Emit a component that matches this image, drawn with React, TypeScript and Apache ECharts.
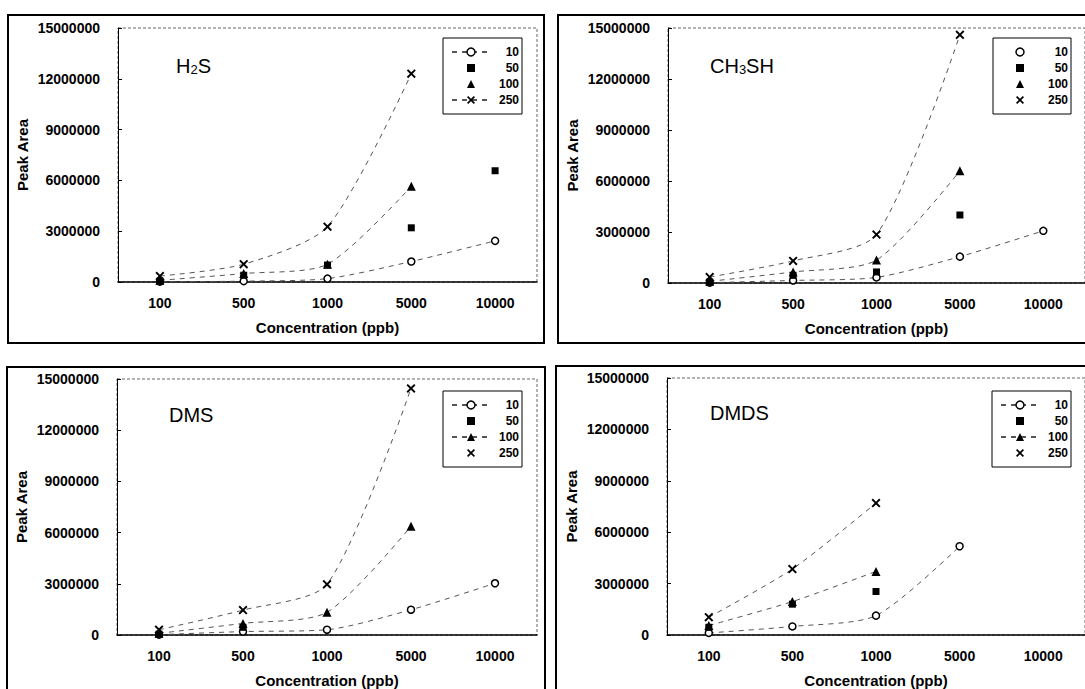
import React, { useEffect, useRef } from 'react';
import * as echarts from 'echarts';

// ---------- data ----------
const categories = ['100', '500', '1000', '5000', '10000'];
const seriesNames = ['10', '50', '100', '250'];
const yMin = 0;
const yMax = 15000000;
const yInterval = 3000000;

const h2s10 = [20000, 50000, 200000, 1210000, 2430000];
const h2s50 = [50000, 400000, 1000000, 3200000, 6570000];
const h2s100 = [100000, 500000, 1050000, 5650000, null];
const h2s250 = [350000, 1050000, 3270000, 12300000, null];

const ch3sh10 = [20000, 150000, 330000, 1550000, 3070000];
const ch3sh50 = [50000, 450000, 650000, 4000000, null];
const ch3sh100 = [100000, 650000, 1350000, 6600000, null];
const ch3sh250 = [350000, 1300000, 2850000, 14600000, null];

const dms10 = [20000, 200000, 310000, 1480000, 3030000];
const dms50 = [50000, 450000, null, null, null];
const dms100 = [100000, 680000, 1330000, 6370000, null];
const dms250 = [310000, 1460000, 2970000, 14450000, null];

const dmds10 = [120000, 500000, 1130000, 5180000, null];
const dmds50 = [450000, 1800000, 2540000, null, null];
const dmds100 = [550000, 1950000, 3710000, null, null];
const dmds250 = [1040000, 3850000, 7700000, null, null];

const panelTitles = ['H{s|2}S', 'CH{s|3}SH', 'DMS', 'DMDS'];
const panelData = [
  [h2s10, h2s50, h2s100, h2s250],
  [ch3sh10, ch3sh50, ch3sh100, ch3sh250],
  [dms10, dms50, dms100, dms250],
  [dmds10, dmds50, dmds100, dmds250],
];

// ---------- layout / style ----------
const FONT = 'Liberation Sans, Arial, Helvetica, sans-serif';
const grids = [
  { left: 118, top: 28, width: 419, height: 254 },
  { left: 668, top: 28, width: 417, height: 255 },
  { left: 117, top: 379, width: 420, height: 256 },
  { left: 667, top: 378, width: 418, height: 257 },
];
const boxes = [
  [8, 15, 536, 328],
  [558, 15, 540, 328],
  [7, 367, 538, 340],
  [556, 366, 540, 340],
];
const legendPos = [
  [443, 38],
  [993, 38],
  [443, 391],
  [992, 391],
];
const titlePos = [
  [176, 66],
  [710, 66],
  [169, 415],
  [710, 413],
];
const legendLine = [
  [true, false, false, true],
  [false, false, false, false],
  [true, false, true, false],
  [true, false, true, false],
];
const hasLine = [true, false, true, true];
const X_PATH =
  'path://M0,1.5L1.5,0L5,3.5L8.5,0L10,1.5L6.5,5L10,8.5L8.5,10L5,6.5L1.5,10L0,8.5L3.5,5Z';
const symbols = ['circle', 'rect', 'triangle', X_PATH];
const symbolSizes = [7, 7, 9, 9];

function buildOption() {
  const series: any[] = [];
  const xAxis: any[] = [];
  const yAxis: any[] = [];
  const legend: any[] = [];
  const graphic: any[] = [];

  grids.forEach((g, p) => {
    xAxis.push({
      type: 'category',
      gridIndex: p,
      data: categories,
      boundaryGap: true,
      axisLine: { lineStyle: { color: '#000', width: 1.5 } },
      axisTick: { inside: true, length: 5, lineStyle: { color: '#000' } },
      axisLabel: { color: '#000', fontWeight: 'bold', fontSize: 14, fontFamily: FONT, margin: 14 },
      name: 'Concentration (ppb)',
      nameLocation: 'middle',
      nameGap: 38,
      nameTextStyle: { color: '#000', fontWeight: 'bold', fontSize: 15, fontFamily: FONT },
    });
    yAxis.push({
      type: 'value',
      gridIndex: p,
      min: yMin,
      max: yMax,
      interval: yInterval,
      axisLine: { show: true, lineStyle: { color: '#000', width: 1 } },
      axisTick: { show: true, inside: true, length: 4, lineStyle: { color: '#000' } },
      splitLine: { show: false },
      axisLabel: {
        color: '#000',
        fontWeight: 'bold',
        fontSize: 14,
        fontFamily: FONT,
        margin: 18,
        formatter: (v: number) => String(v),
      },
      name: 'Peak Area',
      nameLocation: 'middle',
      nameGap: 88,
      nameTextStyle: { color: '#000', fontWeight: 'bold', fontSize: 15, fontFamily: FONT },
    });

    seriesNames.forEach((n, s) => {
      series.push({
        name: `${p}|${n}`,
        type: 'line',
        xAxisIndex: p,
        yAxisIndex: p,
        data: panelData[p][s],
        symbol: symbols[s],
        symbolSize: symbolSizes[s],
        showSymbol: true,
        smooth: 0.25,
        itemStyle:
          s === 0
            ? { color: '#fff', borderColor: '#000', borderWidth: 1.5 }
            : { color: '#000' },
        lineStyle: hasLine[s]
          ? { color: '#555', width: 1, type: [5, 5] }
          : { color: '#555', width: 0, opacity: 0 },
        z: 3,
      });
    });

    legend.push({
      left: legendPos[p][0],
      top: legendPos[p][1],
      orient: 'vertical',
      selectedMode: false,
      backgroundColor: '#fff',
      borderColor: '#000',
      borderWidth: 1,
      borderRadius: 0,
      padding: [8, 3, 8, 8],
      itemWidth: 38,
      itemHeight: 10,
      itemGap: 4,
      formatter: (name: string) => `{t|${name.split('|')[1]}}`,
      textStyle: {
        color: '#000',
        fontWeight: 'bold',
        fontSize: 12,
        fontFamily: FONT,
        rich: {
          t: { width: 24, align: 'right', fontWeight: 'bold', fontSize: 12, lineHeight: 12, fontFamily: FONT, color: '#000' },
        },
      },
      data: seriesNames.map((n, s) => {
        const item: any = { name: `${p}|${n}` };
        if (!legendLine[p][s]) item.lineStyle = { opacity: 0, width: 0 };
        if (s === 0) item.itemStyle = { color: '#fff', borderColor: '#000', borderWidth: 1.5 };
        return item;
      }),
    });

    // panel outer box
    graphic.push({
      type: 'rect',
      silent: true,
      shape: { x: boxes[p][0], y: boxes[p][1], width: boxes[p][2], height: boxes[p][3] },
      style: { fill: 'none', stroke: '#000', lineWidth: 2 },
      z: -10,
    });
    // plot frame (dashed)
    graphic.push({
      type: 'rect',
      silent: true,
      shape: { x: g.left, y: g.top, width: g.width, height: g.height },
      style: { fill: 'none', stroke: '#666', lineWidth: 1, lineDash: [3, 2] },
      z: -5,
    });
    // compound label
    graphic.push({
      type: 'text',
      silent: true,
      x: titlePos[p][0],
      y: titlePos[p][1],
      style: {
        text: panelTitles[p],
        fill: '#000',
        font: `20px ${FONT}`,
        verticalAlign: 'middle',
        rich: {
          s: { fontSize: 13, fontFamily: FONT, verticalAlign: 'bottom', lineHeight: 6, fill: '#000' },
        },
      },
    });
  });

  return {
    animation: false,
    backgroundColor: '#fff',
    grid: grids.map((g) => ({ ...g, containLabel: false })),
    xAxis,
    yAxis,
    legend,
    series,
    graphic,
  };
}

export default function App() {
  const ref = useRef<HTMLDivElement>(null);
  useEffect(() => {
    document.body.style.margin = '0';
    const chart = echarts.init(ref.current!, null, { renderer: 'svg' });
    chart.setOption(buildOption() as any);
    return () => chart.dispose();
  }, []);
  return (
    <div
      ref={ref}
      style={{ position: 'absolute', left: 0, top: 0, width: 1085, height: 689 }}
    />
  );
}
